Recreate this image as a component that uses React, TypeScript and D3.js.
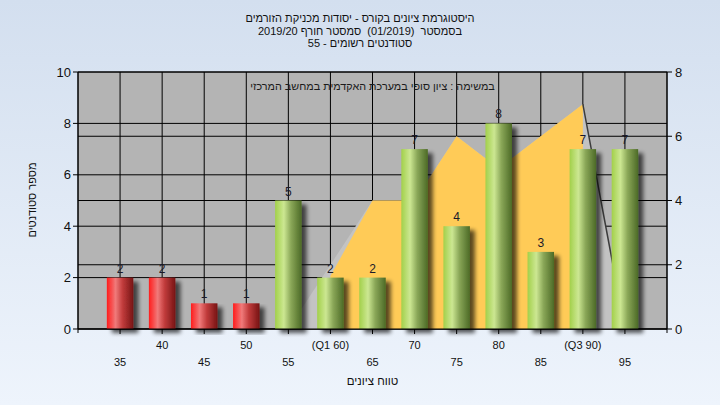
import React from "react";
import * as d3 from "d3";

// ---- data ----
const categories = [35, 40, 45, 50, 55, 60, 65, 70, 75, 80, 85, 90, 95];
const counts = [2, 2, 1, 1, 5, 2, 2, 7, 4, 8, 3, 7, 7];
const xTickLabels = ["35", "40", "45", "50", "55", "(Q1 60)", "65", "70", "75", "80", "85", "(Q3 90)", "95"];
const passGrade = 55;
const distX = [55, 60, 65, 70, 75, 80, 85, 90, 95];
const distY = [0, 2, 4, 4, 6, 5, 6, 7, 0];
const iqrX = [60, 65, 70, 75, 80, 85, 90];
const iqrY = [1.65, 4, 4, 6, 5, 6, 7];
const leftTicks = [0, 2, 4, 6, 8, 10];
const rightTicks = [0, 2, 4, 6, 8];
const titleLines = [
  "היסטוגרמת ציונים בקורס - יסודות מכניקת הזורמים",
  "בסמסטר  (01/2019)  סמסטר חורף 2019/20",
  "סטודנטים רשומים - 55",
];
const noteText = "במשימה : ציון סופי במערכת האקדמית במחשב המרכזי";
const yTitle = "מספר סטודנטים";
const xTitle = "טווח ציונים";

const W = 720, H = 405;
const L = 78, R = 667, T = 72, B = 329;
const FONT = "'Liberation Sans', Arial, sans-serif";
const rtl = { direction: "rtl" as const, unicodeBidi: "embed" as const, whiteSpace: "pre" as const };

export default function App() {
  const x = d3.scaleLinear().domain([30, 100]).range([L, R]);
  const yL = d3.scaleLinear().domain([0, 10]).range([B, T]);
  const yR = d3.scaleLinear().domain([0, 8]).range([B, T]);
  const gridX = d3.range(30, 101, 5);
  const barW = 26.5;

  const distPts: [number, number][] = distX.map((v, i) => [x(v), yR(distY[i])]);
  const distArea = d3.area<[number, number]>().x(d => d[0]).y0(B).y1(d => d[1])(distPts) || "";
  const iqrPts: [number, number][] = iqrX.map((v, i) => [x(v), yR(iqrY[i])]);
  const iqrArea = d3.area<[number, number]>().x(d => d[0]).y0(B).y1(d => d[1])(iqrPts) || "";
  const n = distX.length;
  const tailLine = d3.line()([distPts[n - 2], distPts[n - 1]]) || "";

  return (
    <svg width={W} height={H} style={{ position: "absolute", left: 0, top: 0, fontFamily: FONT }}>
      <defs>
        <linearGradient id="bg" x1="0" y1="0" x2="0" y2="1">
          <stop offset="0" stopColor="#d3dfef" />
          <stop offset="1" stopColor="#eef4fc" />
        </linearGradient>
        <linearGradient id="red" x1="0" y1="0" x2="1" y2="0">
          <stop offset="0" stopColor="#ff1c1c" />
          <stop offset="0.33" stopColor="#f07a7a" />
          <stop offset="0.6" stopColor="#c03a3a" />
          <stop offset="1" stopColor="#761414" />
        </linearGradient>
        <linearGradient id="green" x1="0" y1="0" x2="1" y2="0">
          <stop offset="0" stopColor="#a2d04a" />
          <stop offset="0.33" stopColor="#cce792" />
          <stop offset="0.6" stopColor="#8aa758" />
          <stop offset="1" stopColor="#4c6a26" />
        </linearGradient>
        <filter id="shadow" x="-30%" y="-10%" width="180%" height="130%">
          <feGaussianBlur in="SourceAlpha" stdDeviation="2.2" />
          <feOffset dx="5" dy="4" result="b" />
          <feComponentTransfer>
            <feFuncA type="linear" slope="0.65" />
          </feComponentTransfer>
          <feMerge>
            <feMergeNode />
            <feMergeNode in="SourceGraphic" />
          </feMerge>
        </filter>
      </defs>
      <rect x={0} y={0} width={W} height={H} fill="url(#bg)" />

      {/* titles */}
      {titleLines.map((t, i) => (
        <text key={i} x={360} y={22 + i * 12.5} textAnchor="middle" fontSize={11} fill="#111" style={rtl}>{t}</text>
      ))}

      {/* plot background */}
      <rect x={L} y={T} width={R - L} height={B - T} fill="#b4b4b4" />

      {/* gridlines */}
      {gridX.map(v => (
        <line key={"gx" + v} x1={x(v)} x2={x(v)} y1={T} y2={B} stroke="#000" strokeWidth={1} />
      ))}
      {leftTicks.map(v => (
        <line key={"gl" + v} x1={L} x2={R} y1={yL(v)} y2={yL(v)} stroke="#000" strokeWidth={1} />
      ))}
      {rightTicks.map(v => (
        <line key={"gr" + v} x1={L} x2={R} y1={yR(v)} y2={yR(v)} stroke="#000" strokeWidth={1} />
      ))}

      {/* distribution area */}
      <path d={distArea} fill="#c3c3c3" />
      <path d={iqrArea} fill="#ffcb57" />
      <path d={tailLine} stroke="#3c3c3c" strokeWidth={1.5} fill="none" />

      {/* note */}
      <text x={(L + R) / 2} y={90} textAnchor="middle" fontSize={10.8} fill="#1a1a1a" style={rtl}>{noteText}</text>

      {/* bars */}
      {categories.map((c, i) => (
        <rect key={"b" + c} x={x(c) - barW / 2} y={yL(counts[i])} width={barW} height={B - yL(counts[i])}
          fill={c < passGrade ? "url(#red)" : "url(#green)"} filter="url(#shadow)" />
      ))}
      {categories.map((c, i) => (
        <text key={"v" + c} x={x(c)} y={yL(counts[i]) - 5} textAnchor="middle" fontSize={12} fill="#1a1a2a">
          {counts[i]}
        </text>
      ))}

      {/* axes */}
      <line x1={L} x2={L} y1={T} y2={B + 4} stroke="#000" />
      <line x1={R} x2={R} y1={T} y2={B + 4} stroke="#000" />
      <line x1={L} x2={R} y1={B} y2={B} stroke="#000" />
      {leftTicks.map(v => (
        <g key={"lt" + v}>
          <line x1={L - 5} x2={L} y1={yL(v)} y2={yL(v)} stroke="#000" />
          <text x={L - 7} y={yL(v) + 4.5} textAnchor="end" fontSize={13} fill="#111">{v}</text>
        </g>
      ))}
      {rightTicks.map(v => (
        <g key={"rt" + v}>
          <line x1={R} x2={R + 5} y1={yR(v)} y2={yR(v)} stroke="#000" />
          <text x={R + 8} y={yR(v) + 4.5} textAnchor="start" fontSize={13} fill="#111">{v}</text>
        </g>
      ))}
      {categories.map((c, i) => (
        <g key={"xt" + c}>
          <line x1={x(c)} x2={x(c)} y1={B} y2={B + 5} stroke="#000" />
          <text x={x(c)} y={i % 2 === 0 ? 366 : 349} textAnchor="middle" fontSize={11} fill="#111">
            {xTickLabels[i]}
          </text>
        </g>
      ))}

      {/* axis titles */}
      <text x={(L + R) / 2} y={385} textAnchor="middle" fontSize={11.5} fill="#111" style={rtl}>{xTitle}</text>
      <text transform={`translate(36,200) rotate(-90)`} textAnchor="middle" fontSize={11} fill="#111" style={rtl}>{yTitle}</text>
    </svg>
  );
}
